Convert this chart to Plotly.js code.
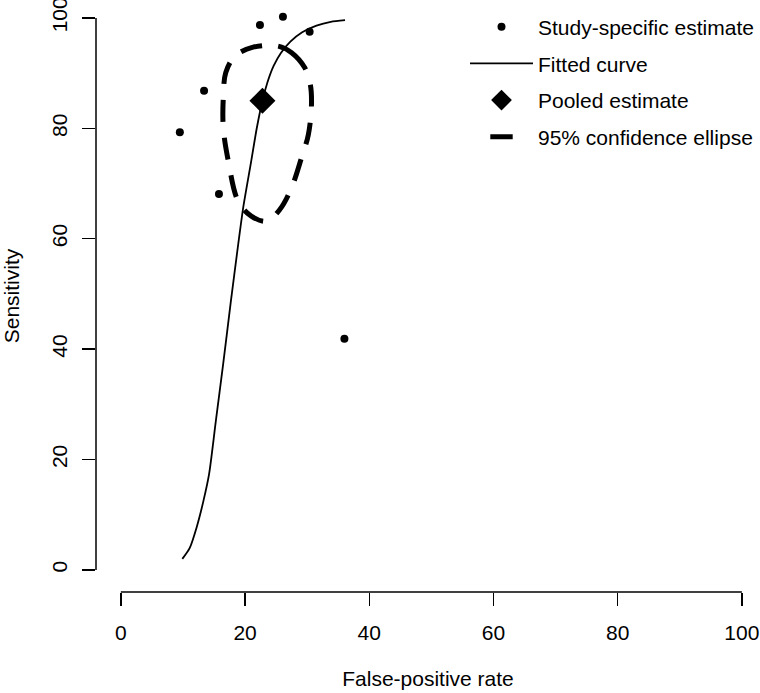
<!DOCTYPE html>
<html>
<head>
<meta charset="utf-8">
<script src="https://cdn.plot.ly/plotly-3.0.1.min.js"></script>
<style>html,body{margin:0;padding:0;background:#fff;}#chart{width:760px;height:693px;}</style>
</head>
<body>
<div id="chart"></div>
<script>
// Study-specific estimates (false-positive rate %, sensitivity %)
var studyFPR = [9.5, 13.4, 15.8, 22.4, 26.1, 30.4, 36.0];
var studySens = [79.3, 86.8, 68.1, 98.7, 100.2, 97.5, 41.9];

// Pooled estimate
var pooledFPR = [22.8];
var pooledSens = [85.0];

// Fitted (SROC) curve
var curveFPR = [9.9, 11.1, 12.2, 13.3, 14.2, 15.3, 16.5, 17.7, 18.9, 19.7, 21.0, 21.9, 22.8, 23.6, 24.6, 25.8, 27.3, 29.2, 31.5, 33.8, 36.1];
var curveSens = [2.0, 4.0, 7.7, 12.5, 17.3, 27.0, 37.5, 48.5, 59.0, 65.6, 74.1, 80.1, 85.0, 88.3, 91.3, 93.7, 95.7, 97.4, 98.6, 99.3, 99.6];

// 95% confidence ellipse
var ellipseFPR = [25.3, 27.5, 29.6, 30.5, 30.7, 30.2, 29.1, 27.5, 25.6, 23.5, 21.0, 18.9, 17.3, 16.5, 16.5, 16.9, 18.4, 21.3, 25.3];
var ellipseSens = [94.9, 93.7, 91.0, 88.0, 84.4, 78.9, 74.7, 69.3, 65.3, 63.2, 64.1, 66.8, 74.1, 80.1, 85.6, 90.1, 93.1, 94.7, 94.9];

// Axis ticks and labels
var tickVals = [0, 20, 40, 60, 80, 100];
var tickText = ['0', '20', '40', '60', '80', '100'];
var xTitle = 'False-positive rate';
var yTitle = 'Sensitivity';
var names = ['Study-specific estimate', 'Fitted curve', 'Pooled estimate', '95% confidence ellipse'];

var FONT = 'Liberation Sans, Arial, sans-serif';

var traces = [
  {x: curveFPR, y: curveSens, mode: 'lines', name: names[1], legendgroup: 'b', legendrank: 2,
   line: {color: '#000', width: 1.8, shape: 'spline', smoothing: 0.7}, hoverinfo: 'skip'},
  {x: ellipseFPR, y: ellipseSens, mode: 'lines', name: names[3], legendgroup: 'd', showlegend: false,
   line: {color: '#000', width: 5, dash: '22px,16px', shape: 'spline', smoothing: 1}, hoverinfo: 'skip'},
  // legend entry for the ellipse (no data of its own)
  {x: [null], y: [null], mode: 'markers', name: names[3], legendgroup: 'd', legendrank: 4,
   marker: {color: '#000', size: 16, symbol: 'line-ew', line: {color: '#000', width: 5}}, hoverinfo: 'skip'},
  {x: studyFPR, y: studySens, mode: 'markers', name: names[0], legendgroup: 'a', legendrank: 1,
   marker: {color: '#000', size: 8, symbol: 'circle'}, cliponaxis: false},
  {x: pooledFPR, y: pooledSens, mode: 'markers', name: names[2], legendgroup: 'c', legendrank: 3,
   marker: {color: '#000', size: 20, symbol: 'diamond'}, cliponaxis: false}
];

var axisCommon = {
  tickmode: 'array', tickvals: tickVals, ticktext: tickText,
  ticks: 'outside', ticklen: 13, tickwidth: 1.5, tickcolor: '#000',
  showline: false, showgrid: false, zeroline: false,
  ticklabeloverflow: 'allow',
  tickfont: {family: FONT, size: 21, color: '#000'},
  fixedrange: true
};

var layout = {
  width: 760, height: 693,
  margin: {l: 96, r: 0, t: 0, b: 101, pad: 0},
  paper_bgcolor: '#fff', plot_bgcolor: '#fff',
  font: {family: FONT, size: 21, color: '#000'},
  xaxis: Object.assign({}, axisCommon, {
    range: [-4, 102.92],
    ticklabelstandoff: 9,
    title: {text: xTitle, font: {family: FONT, size: 21, color: '#000'}, standoff: 28}
  }),
  yaxis: Object.assign({}, axisCommon, {
    range: [-4, 103.25],
    tickangle: -90,
    ticklabelstandoff: 7,
    title: {text: yTitle, font: {family: FONT, size: 21, color: '#000'}, standoff: 22}
  }),
  shapes: [
    {type: 'line', xref: 'x', yref: 'paper', x0: 0, x1: 100, y0: 0, y1: 0, line: {color: '#000', width: 1.5}},
    {type: 'line', xref: 'paper', yref: 'y', x0: 0, x1: 0, y0: 0, y1: 100, line: {color: '#000', width: 1.5}}
  ],
  showlegend: true,
  legend: {
    x: (465 - 96) / 664, xanchor: 'left', y: 1 - 6.5 / 592, yanchor: 'top',
    bgcolor: 'rgba(0,0,0,0)', borderwidth: 0,
    font: {family: FONT, size: 21, color: '#000'},
    traceorder: 'grouped', tracegroupgap: 6.4, itemwidth: 63, itemclick: false, itemdoubleclick: false
  }
};

Plotly.newPlot('chart', traces, layout, {staticPlot: true, displayModeBar: false});
</script>
</body>
</html>
